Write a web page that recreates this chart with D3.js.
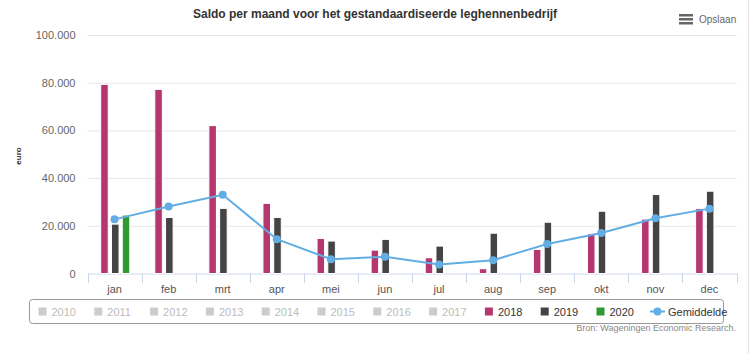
<!DOCTYPE html>
<html>
<head>
<meta charset="utf-8">
<script src="https://cdn.jsdelivr.net/npm/d3@7"></script>
<style>
  body { margin: 0; background: #fff; }
  svg { display: block; font-family: "Liberation Sans", Arial, sans-serif; }
</style>
</head>
<body>
<script>
// chart data
const months = ["jan", "feb", "mrt", "apr", "mei", "jun", "jul", "aug", "sep", "okt", "nov", "dec"];
const saldo2018 = [79300, 77200, 62000, 29400, 14700, 9800, 6600, 2000, 10100, 16600, 22800, 27200];
const saldo2019 = [20700, 23500, 27300, 23500, 13600, 14300, 11500, 16900, 21500, 26100, 33100, 34500];
const saldo2020 = [24500];
const gemiddelde = [22700, 28100, 33000, 14400, 6000, 7000, 3800, 5600, 12400, 17000, 23200, 27200];
const yTicks = [0, 20000, 40000, 60000, 80000, 100000];
const legendYears = ["2010", "2011", "2012", "2013", "2014", "2015", "2016", "2017", "2018", "2019", "2020"];

const colors = { "2018": "#b5376f", "2019": "#444444", "2020": "#2f9a2f", avg: "#62aee4" };

const width = 750, height = 354;
const svg = d3.select("body").append("svg")
    .attr("width", width)
    .attr("height", height);

const x = d3.scaleBand().domain(months).range([87.5, 736.5]);
const y = d3.scaleLinear().domain([0, 100000]).range([273.5, 35]);
const slot = d3.scaleBand().domain(["2018", "2019", "2020"])
    .range([13.2, 13.2 + 29.1]).paddingInner(0.3);

const nl = d3.formatLocale({ decimal: ",", thousands: ".", grouping: [3], currency: ["", ""] });
const fmt = nl.format(",");

// right border line
svg.append("line")
    .attr("x1", 748.5).attr("x2", 748.5).attr("y1", 0).attr("y2", height)
    .attr("stroke", "#e3e3e3");

// title
svg.append("text")
    .attr("x", 375).attr("y", 18)
    .attr("text-anchor", "middle")
    .attr("font-size", 12).attr("font-weight", "bold")
    .attr("fill", "#333")
    .text("Saldo per maand voor het gestandaardiseerde leghennenbedrijf");

// export button
const btn = svg.append("g").attr("transform", "translate(679,14)");
[0, 4, 8].forEach(o => btn.append("rect").attr("x", 0).attr("y", o).attr("width", 14).attr("height", 2.5).attr("fill", "#666"));
svg.append("text")
    .attr("x", 699).attr("y", 23)
    .attr("font-size", 10).attr("fill", "#666")
    .text("Opslaan");

// grid + y axis
const yAxis = svg.append("g")
    .attr("transform", "translate(87.5,0)")
    .call(d3.axisLeft(y).tickValues(yTicks).tickFormat(fmt).tickSize(-649).tickPadding(12));
yAxis.select(".domain").remove();
yAxis.selectAll(".tick line").attr("stroke", "#e6e6e6");
yAxis.selectAll(".tick text").attr("font-size", 11).attr("fill", "#666")
    .attr("font-family", "Liberation Sans, Arial, sans-serif");
yAxis.selectAll(".tick").filter(d => d === 0).select("line").remove();

svg.append("text")
    .attr("transform", "translate(21,156) rotate(-90)")
    .attr("text-anchor", "middle")
    .attr("font-size", 8).attr("font-weight", "bold").attr("fill", "#333")
    .text("euro");

// x axis
const xAxis = svg.append("g")
    .attr("transform", "translate(0,273.5)")
    .call(d3.axisBottom(x).tickSize(0).tickPadding(12));
xAxis.select(".domain").attr("stroke", "#ccd6eb");
xAxis.selectAll(".tick text").attr("font-size", 11).attr("fill", "#555")
    .attr("font-family", "Liberation Sans, Arial, sans-serif");
svg.append("g").selectAll("line")
    .data(months.concat(["end"]))
    .join("line")
    .attr("x1", (d, i) => Math.round(87.5 + i * x.step()) + 0.5)
    .attr("x2", (d, i) => Math.round(87.5 + i * x.step()) + 0.5)
    .attr("y1", 273.5).attr("y2", 283)
    .attr("stroke", "#ccd6eb");

// bars
const series = [["2018", saldo2018], ["2019", saldo2019], ["2020", saldo2020]];
series.forEach(([key, vals]) => {
    svg.append("g").selectAll("rect")
        .data(vals)
        .join("rect")
        .attr("x", (d, i) => x(months[i]) + slot(key))
        .attr("y", d => y(d))
        .attr("width", slot.bandwidth())
        .attr("height", d => y(0) - y(d))
        .attr("fill", colors[key])
        .attr("stroke", "#fff")
        .attr("stroke-width", 1);
});

// average line
const line = d3.line()
    .x((d, i) => x(months[i]) + x.bandwidth() / 2)
    .y(d => y(d));
svg.append("path")
    .datum(gemiddelde)
    .attr("d", line)
    .attr("fill", "none")
    .attr("stroke", colors.avg)
    .attr("stroke-width", 2);
svg.append("g").selectAll("circle")
    .data(gemiddelde)
    .join("circle")
    .attr("cx", (d, i) => x(months[i]) + x.bandwidth() / 2)
    .attr("cy", d => y(d))
    .attr("r", 4)
    .attr("fill", colors.avg);

// legend
svg.append("rect")
    .attr("x", 29.5).attr("y", 299.5).attr("width", 694).attr("height", 24)
    .attr("rx", 3)
    .attr("fill", "none").attr("stroke", "#999");
const leg = svg.append("g").selectAll("g")
    .data(legendYears)
    .join("g")
    .attr("transform", (d, i) => `translate(${38.5 + i * 55.8},0)`);
leg.append("rect")
    .attr("x", 0).attr("y", 307.5).attr("width", 8).attr("height", 8)
    .attr("fill", d => colors[d] || "#cccccc");
leg.append("text")
    .attr("x", 13).attr("y", 315.5)
    .attr("font-size", 11)
    .attr("fill", d => colors[d] ? "#333" : "#bbb")
    .text(d => d);
const lg = svg.append("g").attr("transform", "translate(650,0)");
lg.append("line").attr("x1", 0).attr("x2", 15).attr("y1", 311.5).attr("y2", 311.5)
    .attr("stroke", colors.avg).attr("stroke-width", 2);
lg.append("circle").attr("cx", 7.5).attr("cy", 311.5).attr("r", 4).attr("fill", colors.avg);
lg.append("text").attr("x", 18).attr("y", 315.5).attr("font-size", 11).attr("fill", "#333")
    .text("Gemiddelde");

// credits
svg.append("text")
    .attr("x", 736).attr("y", 331)
    .attr("text-anchor", "end")
    .attr("font-size", 9).attr("fill", "#888")
    .text("Bron: Wageningen Economic Research.");
</script>
</body>
</html>
